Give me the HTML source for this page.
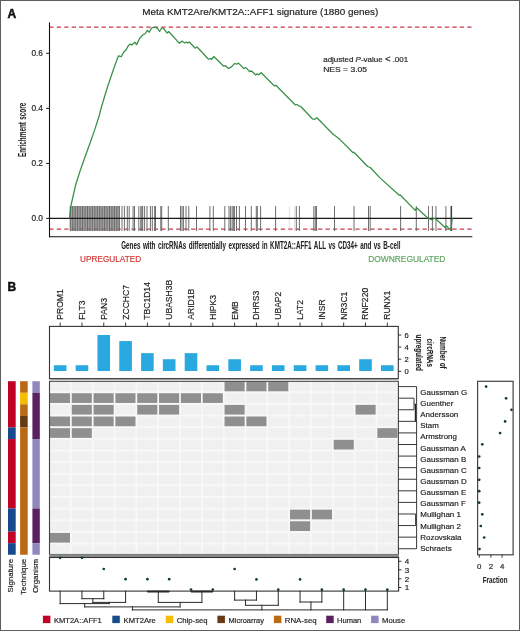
<!DOCTYPE html>
<html><head><meta charset="utf-8"><style>
html,body{margin:0;padding:0;background:#fff;}
body{width:520px;height:631px;overflow:hidden;font-family:"Liberation Sans", sans-serif;}
svg{display:block;will-change:transform;}
</style></head><body>
<svg width="520" height="631" viewBox="0 0 520 631" font-family='"Liberation Sans", sans-serif'>
<rect x="0" y="0" width="520" height="631" fill="#fff"/>
<text x="7.5" y="17.9" font-size="12" text-anchor="start" fill="#111" font-weight="bold" stroke="#111" stroke-width="0.5">A</text>
<text x="142.3" y="15.4" font-size="9.9" text-anchor="start" fill="#222" textLength="236" lengthAdjust="spacingAndGlyphs"  stroke="#222" stroke-width="0.18">Meta KMT2Are/KMT2A::AFF1 signature (1880 genes)</text>
<line x1="49.3" y1="27" x2="471.8" y2="27" stroke="#cc3a48" stroke-width="1.25" stroke-dasharray="4.3 3.164"/>
<line x1="49.3" y1="229.1" x2="471.8" y2="229.1" stroke="#cc3a48" stroke-width="1.25" stroke-dasharray="4.3 3.164"/>
<rect x="69.8" y="206" width="50.2" height="25" fill="#7a7a7a" fill-opacity="0.7"/>
<line x1="70.30" y1="206" x2="70.30" y2="231" stroke="#5a5a5a" stroke-width="0.8"/>
<line x1="72.75" y1="206" x2="72.75" y2="231" stroke="#5a5a5a" stroke-width="0.8"/>
<line x1="75.20" y1="206" x2="75.20" y2="231" stroke="#5a5a5a" stroke-width="0.8"/>
<line x1="77.65" y1="206" x2="77.65" y2="231" stroke="#5a5a5a" stroke-width="0.8"/>
<line x1="80.10" y1="206" x2="80.10" y2="231" stroke="#5a5a5a" stroke-width="0.8"/>
<line x1="82.55" y1="206" x2="82.55" y2="231" stroke="#5a5a5a" stroke-width="0.8"/>
<line x1="85.00" y1="206" x2="85.00" y2="231" stroke="#5a5a5a" stroke-width="0.8"/>
<line x1="87.45" y1="206" x2="87.45" y2="231" stroke="#5a5a5a" stroke-width="0.8"/>
<line x1="89.90" y1="206" x2="89.90" y2="231" stroke="#5a5a5a" stroke-width="0.8"/>
<line x1="92.35" y1="206" x2="92.35" y2="231" stroke="#5a5a5a" stroke-width="0.8"/>
<line x1="94.80" y1="206" x2="94.80" y2="231" stroke="#5a5a5a" stroke-width="0.8"/>
<line x1="97.25" y1="206" x2="97.25" y2="231" stroke="#5a5a5a" stroke-width="0.8"/>
<line x1="99.70" y1="206" x2="99.70" y2="231" stroke="#5a5a5a" stroke-width="0.8"/>
<line x1="102.15" y1="206" x2="102.15" y2="231" stroke="#5a5a5a" stroke-width="0.8"/>
<line x1="104.60" y1="206" x2="104.60" y2="231" stroke="#5a5a5a" stroke-width="0.8"/>
<line x1="107.05" y1="206" x2="107.05" y2="231" stroke="#5a5a5a" stroke-width="0.8"/>
<line x1="109.50" y1="206" x2="109.50" y2="231" stroke="#5a5a5a" stroke-width="0.8"/>
<line x1="111.95" y1="206" x2="111.95" y2="231" stroke="#5a5a5a" stroke-width="0.8"/>
<line x1="114.40" y1="206" x2="114.40" y2="231" stroke="#5a5a5a" stroke-width="0.8"/>
<line x1="116.85" y1="206" x2="116.85" y2="231" stroke="#5a5a5a" stroke-width="0.8"/>
<line x1="119.30" y1="206" x2="119.30" y2="231" stroke="#5a5a5a" stroke-width="0.8"/>
<line x1="122" y1="206" x2="122" y2="231" stroke="#666" stroke-width="0.95"/>
<line x1="124.4" y1="206" x2="124.4" y2="231" stroke="#666" stroke-width="0.95"/>
<line x1="127.3" y1="206" x2="127.3" y2="231" stroke="#666" stroke-width="0.95"/>
<line x1="129.2" y1="206" x2="129.2" y2="231" stroke="#666" stroke-width="0.95"/>
<line x1="133.1" y1="206" x2="133.1" y2="231" stroke="#666" stroke-width="0.95"/>
<line x1="134.5" y1="206" x2="134.5" y2="231" stroke="#666" stroke-width="0.95"/>
<line x1="138.8" y1="206" x2="138.8" y2="231" stroke="#666" stroke-width="0.95"/>
<line x1="140.8" y1="206" x2="140.8" y2="231" stroke="#666" stroke-width="0.95"/>
<line x1="141.8" y1="206" x2="141.8" y2="231" stroke="#666" stroke-width="0.95"/>
<line x1="142.7" y1="206" x2="142.7" y2="231" stroke="#666" stroke-width="0.95"/>
<line x1="144.6" y1="206" x2="144.6" y2="231" stroke="#666" stroke-width="0.95"/>
<line x1="147" y1="206" x2="147" y2="231" stroke="#666" stroke-width="0.95"/>
<line x1="150.4" y1="206" x2="150.4" y2="231" stroke="#666" stroke-width="0.95"/>
<line x1="152.3" y1="206" x2="152.3" y2="231" stroke="#666" stroke-width="0.95"/>
<line x1="154.7" y1="206" x2="154.7" y2="231" stroke="#666" stroke-width="0.95"/>
<line x1="155.5" y1="206" x2="155.5" y2="231" stroke="#666" stroke-width="0.95"/>
<line x1="160.8" y1="206" x2="160.8" y2="231" stroke="#666" stroke-width="0.95"/>
<line x1="161.7" y1="206" x2="161.7" y2="231" stroke="#666" stroke-width="0.95"/>
<line x1="168.3" y1="206" x2="168.3" y2="231" stroke="#666" stroke-width="0.95"/>
<line x1="180.5" y1="206" x2="180.5" y2="231" stroke="#666" stroke-width="0.95"/>
<line x1="182" y1="206" x2="182" y2="231" stroke="#666" stroke-width="0.95"/>
<line x1="183.4" y1="206" x2="183.4" y2="231" stroke="#666" stroke-width="0.95"/>
<line x1="186" y1="206" x2="186" y2="231" stroke="#666" stroke-width="0.95"/>
<line x1="188.8" y1="206" x2="188.8" y2="231" stroke="#666" stroke-width="0.95"/>
<line x1="196.5" y1="206" x2="196.5" y2="231" stroke="#666" stroke-width="0.95"/>
<line x1="209.9" y1="206" x2="209.9" y2="231" stroke="#666" stroke-width="0.95"/>
<line x1="213.3" y1="206" x2="213.3" y2="231" stroke="#666" stroke-width="0.95"/>
<line x1="224.8" y1="206" x2="224.8" y2="231" stroke="#666" stroke-width="0.95"/>
<line x1="229" y1="206" x2="229" y2="231" stroke="#666" stroke-width="0.95"/>
<line x1="230.6" y1="206" x2="230.6" y2="231" stroke="#666" stroke-width="0.95"/>
<line x1="232.2" y1="206" x2="232.2" y2="231" stroke="#666" stroke-width="0.95"/>
<line x1="233.7" y1="206" x2="233.7" y2="231" stroke="#666" stroke-width="0.95"/>
<line x1="234.4" y1="206" x2="234.4" y2="231" stroke="#666" stroke-width="0.95"/>
<line x1="236.5" y1="206" x2="236.5" y2="231" stroke="#666" stroke-width="0.95"/>
<line x1="239.4" y1="206" x2="239.4" y2="231" stroke="#666" stroke-width="0.95"/>
<line x1="245.5" y1="206" x2="245.5" y2="231" stroke="#666" stroke-width="0.95"/>
<line x1="251.3" y1="206" x2="251.3" y2="231" stroke="#666" stroke-width="0.95"/>
<line x1="256.3" y1="206" x2="256.3" y2="231" stroke="#666" stroke-width="0.95"/>
<line x1="257.3" y1="206" x2="257.3" y2="231" stroke="#666" stroke-width="0.95"/>
<line x1="260.6" y1="206" x2="260.6" y2="231" stroke="#666" stroke-width="0.95"/>
<line x1="275.6" y1="206" x2="275.6" y2="231" stroke="#666" stroke-width="0.95"/>
<line x1="296.3" y1="206" x2="296.3" y2="231" stroke="#666" stroke-width="0.95"/>
<line x1="299.4" y1="206" x2="299.4" y2="231" stroke="#666" stroke-width="0.95"/>
<line x1="313.8" y1="206" x2="313.8" y2="231" stroke="#666" stroke-width="0.95"/>
<line x1="315.3" y1="206" x2="315.3" y2="231" stroke="#666" stroke-width="0.95"/>
<line x1="316.5" y1="206" x2="316.5" y2="231" stroke="#666" stroke-width="0.95"/>
<line x1="334.5" y1="206" x2="334.5" y2="231" stroke="#666" stroke-width="0.95"/>
<line x1="354" y1="206" x2="354" y2="231" stroke="#666" stroke-width="0.95"/>
<line x1="368.5" y1="206" x2="368.5" y2="231" stroke="#666" stroke-width="0.95"/>
<line x1="370.2" y1="206" x2="370.2" y2="231" stroke="#666" stroke-width="0.95"/>
<line x1="400.6" y1="206" x2="400.6" y2="231" stroke="#666" stroke-width="0.95"/>
<line x1="416.3" y1="206" x2="416.3" y2="231" stroke="#666" stroke-width="0.95"/>
<line x1="428.5" y1="206" x2="428.5" y2="231" stroke="#666" stroke-width="0.95"/>
<line x1="432.4" y1="206" x2="432.4" y2="231" stroke="#666" stroke-width="0.95"/>
<line x1="436" y1="206" x2="436" y2="231" stroke="#666" stroke-width="0.95"/>
<line x1="445.9" y1="206" x2="445.9" y2="231" stroke="#666" stroke-width="0.95"/>
<line x1="451.3" y1="206" x2="451.3" y2="231" stroke="#444" stroke-width="1.6"/>
<line x1="289.4" y1="206" x2="289.4" y2="231" stroke="#ccc" stroke-width="0.6"/>
<line x1="294.5" y1="206" x2="294.5" y2="231" stroke="#ccc" stroke-width="0.6"/>
<line x1="49.5" y1="22.3" x2="49.5" y2="237.2" stroke="#111" stroke-width="1.1"/>
<line x1="49" y1="236.7" x2="472.3" y2="236.7" stroke="#111" stroke-width="1.1"/>
<line x1="49.5" y1="218.4" x2="472.3" y2="218.4" stroke="#1a1a1a" stroke-width="1.1"/>
<line x1="46.2" y1="53.3" x2="49.5" y2="53.3" stroke="#111" stroke-width="1"/>
<text x="43" y="56.199999999999996" font-size="8.3" text-anchor="end" fill="#222"  stroke="#222" stroke-width="0.18">0.6</text>
<line x1="46.2" y1="108.4" x2="49.5" y2="108.4" stroke="#111" stroke-width="1"/>
<text x="43" y="111.30000000000001" font-size="8.3" text-anchor="end" fill="#222"  stroke="#222" stroke-width="0.18">0.4</text>
<line x1="46.2" y1="163.4" x2="49.5" y2="163.4" stroke="#111" stroke-width="1"/>
<text x="43" y="166.3" font-size="8.3" text-anchor="end" fill="#222"  stroke="#222" stroke-width="0.18">0.2</text>
<line x1="46.2" y1="218.4" x2="49.5" y2="218.4" stroke="#111" stroke-width="1"/>
<text x="43" y="221.3" font-size="8.3" text-anchor="end" fill="#222"  stroke="#222" stroke-width="0.18">0.0</text>
<polyline points="69.5,218.4 70.75,206.5 75.5,185.5 80.3,170.3 85,157 89.8,143.7 94.5,130.4 99.3,115.5 101,108.5 106.7,89.5 112.4,72.5 116,62.2 118.5,55.8 120.2,56.3 121.3,56.8 123.5,52.5 126.3,49.5 128.5,45.4 130.3,44 131.7,45.1 135,42.3 136.6,44.6 139.6,38.5 142.7,35 145,33.8 147.3,30.4 149.2,32.3 151.5,28.1 153.5,27.3 155.4,27.3 157.3,28.1 159.6,31.5 161.9,27.7 163.5,28.5 167.3,33.1 168.5,31.5 170.5,33.5 179.2,43.1 182.3,41.1 184.6,43.1 186.2,42 187.7,43.1 189.2,42 195.4,48.2 196.9,46.9 198.5,48.5 208.5,59.2 210.8,58.5 211.5,59.5 213.8,56.5 223.8,66.2 225.4,65.7 228.5,68.5 231.5,66.9 234.6,63.5 236.9,64.2 238.5,63.1 243.8,68.5 245.4,67.7 246.5,68.1 249.6,71.6 251.2,70.8 255.8,75 257.3,73.8 258.8,74.7 261.2,72.7 274.2,85.8 275.8,85.3 295.4,105 297,104.5 298.5,105.8 300.8,106.5 312.3,118.8 314.6,119.3 316.9,117.8 333.1,134.2 334.6,135.3 340,139.6 353.1,152.7 353.9,152.2 367.7,166.5 370,167.3 380,177.9 399.2,195.2 400,194.7 415.2,210.4 416.5,207.7 428.1,218.3 431.9,219.6 434.8,218.3 435.8,219 445.4,227.7 446.3,225.8 450.7,230.1 451.6,224 452.1,218.3" fill="none" stroke="#379046" stroke-width="1.25" stroke-linejoin="round"/>
<text x="323.2" y="61.8" font-size="8.1" text-anchor="start" fill="#222" textLength="85" lengthAdjust="spacingAndGlyphs"  stroke="#222" stroke-width="0.18">adjusted <tspan font-style="italic">P</tspan>-value <tspan font-size="9.6" dy="0.6">&lt;</tspan><tspan dy="-0.6"> .001</tspan></text>
<text x="323.2" y="71.8" font-size="8.1" text-anchor="start" fill="#222" textLength="43.8" lengthAdjust="spacingAndGlyphs"  stroke="#222" stroke-width="0.18">NES = 3.05</text>
<text transform="translate(25.6,157) rotate(-90)" x="0" y="0" font-size="10.6" fill="#222" font-weight="bold" stroke="#222" stroke-width="0.05" word-spacing="1" textLength="54.2" lengthAdjust="spacingAndGlyphs">Enrichment score</text>
<text x="121.2" y="249" font-size="10.6" text-anchor="start" fill="#222" textLength="279.2" lengthAdjust="spacingAndGlyphs" font-weight="bold" stroke="#222" stroke-width="0.05" word-spacing="1.3">Genes with circRNAs differentially expressed in KMT2A::AFF1 ALL vs CD34+ and vs B-cell</text>
<text x="80.1" y="261.9" font-size="8.2" text-anchor="start" fill="#d43a35" textLength="61" lengthAdjust="spacingAndGlyphs"  stroke="#d43a35" stroke-width="0.18">UPREGULATED</text>
<text x="368.2" y="261.9" font-size="8.3" text-anchor="start" fill="#5fa55f" textLength="77.2" lengthAdjust="spacingAndGlyphs"  stroke="#5fa55f" stroke-width="0.18">DOWNREGULATED</text>
<text x="7.5" y="290.5" font-size="12" text-anchor="start" fill="#111" font-weight="bold" stroke="#111" stroke-width="0.5">B</text>
<text transform="translate(63.15,319.8) rotate(-90)" x="0" y="0" font-size="8.6" fill="#222" stroke="#222" stroke-width="0.18">PROM1</text>
<line x1="60.15" y1="322.6" x2="60.15" y2="326.4" stroke="#222" stroke-width="0.9"/>
<text transform="translate(84.96,319.8) rotate(-90)" x="0" y="0" font-size="8.6" fill="#222" stroke="#222" stroke-width="0.18">FLT3</text>
<line x1="81.96" y1="322.6" x2="81.96" y2="326.4" stroke="#222" stroke-width="0.9"/>
<text transform="translate(106.77,319.8) rotate(-90)" x="0" y="0" font-size="8.6" fill="#222" stroke="#222" stroke-width="0.18">PAN3</text>
<line x1="103.77" y1="322.6" x2="103.77" y2="326.4" stroke="#222" stroke-width="0.9"/>
<text transform="translate(128.58,319.8) rotate(-90)" x="0" y="0" font-size="8.6" fill="#222" stroke="#222" stroke-width="0.18">ZCCHC7</text>
<line x1="125.58" y1="322.6" x2="125.58" y2="326.4" stroke="#222" stroke-width="0.9"/>
<text transform="translate(150.39,319.8) rotate(-90)" x="0" y="0" font-size="8.6" fill="#222" stroke="#222" stroke-width="0.18">TBC1D14</text>
<line x1="147.39" y1="322.6" x2="147.39" y2="326.4" stroke="#222" stroke-width="0.9"/>
<text transform="translate(172.20,319.8) rotate(-90)" x="0" y="0" font-size="8.6" fill="#222" stroke="#222" stroke-width="0.18">UBASH3B</text>
<line x1="169.20" y1="322.6" x2="169.20" y2="326.4" stroke="#222" stroke-width="0.9"/>
<text transform="translate(194.01,319.8) rotate(-90)" x="0" y="0" font-size="8.6" fill="#222" stroke="#222" stroke-width="0.18">ARID1B</text>
<line x1="191.01" y1="322.6" x2="191.01" y2="326.4" stroke="#222" stroke-width="0.9"/>
<text transform="translate(215.82,319.8) rotate(-90)" x="0" y="0" font-size="8.6" fill="#222" stroke="#222" stroke-width="0.18">HIPK3</text>
<line x1="212.82" y1="322.6" x2="212.82" y2="326.4" stroke="#222" stroke-width="0.9"/>
<text transform="translate(237.63,319.8) rotate(-90)" x="0" y="0" font-size="8.6" fill="#222" stroke="#222" stroke-width="0.18">EMB</text>
<line x1="234.63" y1="322.6" x2="234.63" y2="326.4" stroke="#222" stroke-width="0.9"/>
<text transform="translate(259.44,319.8) rotate(-90)" x="0" y="0" font-size="8.6" fill="#222" stroke="#222" stroke-width="0.18">DHRS3</text>
<line x1="256.44" y1="322.6" x2="256.44" y2="326.4" stroke="#222" stroke-width="0.9"/>
<text transform="translate(281.25,319.8) rotate(-90)" x="0" y="0" font-size="8.6" fill="#222" stroke="#222" stroke-width="0.18">UBAP2</text>
<line x1="278.25" y1="322.6" x2="278.25" y2="326.4" stroke="#222" stroke-width="0.9"/>
<text transform="translate(303.06,319.8) rotate(-90)" x="0" y="0" font-size="8.6" fill="#222" stroke="#222" stroke-width="0.18">LAT2</text>
<line x1="300.06" y1="322.6" x2="300.06" y2="326.4" stroke="#222" stroke-width="0.9"/>
<text transform="translate(324.87,319.8) rotate(-90)" x="0" y="0" font-size="8.6" fill="#222" stroke="#222" stroke-width="0.18">INSR</text>
<line x1="321.87" y1="322.6" x2="321.87" y2="326.4" stroke="#222" stroke-width="0.9"/>
<text transform="translate(346.68,319.8) rotate(-90)" x="0" y="0" font-size="8.6" fill="#222" stroke="#222" stroke-width="0.18">NR3C1</text>
<line x1="343.68" y1="322.6" x2="343.68" y2="326.4" stroke="#222" stroke-width="0.9"/>
<text transform="translate(368.49,319.8) rotate(-90)" x="0" y="0" font-size="8.6" fill="#222" stroke="#222" stroke-width="0.18">RNF220</text>
<line x1="365.49" y1="322.6" x2="365.49" y2="326.4" stroke="#222" stroke-width="0.9"/>
<text transform="translate(390.30,319.8) rotate(-90)" x="0" y="0" font-size="8.6" fill="#222" stroke="#222" stroke-width="0.18">RUNX1</text>
<line x1="387.30" y1="322.6" x2="387.30" y2="326.4" stroke="#222" stroke-width="0.9"/>
<rect x="49.5" y="326.4" width="348.8" height="52.2" fill="none" stroke="#333" stroke-width="1.1"/>
<line x1="49.5" y1="379.4" x2="398.3" y2="379.4" stroke="#999" stroke-width="1"/>
<rect x="53.85" y="365.25" width="12.6" height="5.75" fill="#2aa8e0"/>
<rect x="75.66" y="365.25" width="12.6" height="5.75" fill="#2aa8e0"/>
<rect x="97.47" y="335.00" width="12.6" height="36.00" fill="#2aa8e0"/>
<rect x="119.28" y="341.05" width="12.6" height="29.95" fill="#2aa8e0"/>
<rect x="141.09" y="353.15" width="12.6" height="17.85" fill="#2aa8e0"/>
<rect x="162.90" y="359.20" width="12.6" height="11.80" fill="#2aa8e0"/>
<rect x="184.71" y="353.15" width="12.6" height="17.85" fill="#2aa8e0"/>
<rect x="206.52" y="365.25" width="12.6" height="5.75" fill="#2aa8e0"/>
<rect x="228.33" y="359.20" width="12.6" height="11.80" fill="#2aa8e0"/>
<rect x="250.14" y="365.25" width="12.6" height="5.75" fill="#2aa8e0"/>
<rect x="271.95" y="365.25" width="12.6" height="5.75" fill="#2aa8e0"/>
<rect x="293.76" y="365.25" width="12.6" height="5.75" fill="#2aa8e0"/>
<rect x="315.57" y="365.25" width="12.6" height="5.75" fill="#2aa8e0"/>
<rect x="337.38" y="365.25" width="12.6" height="5.75" fill="#2aa8e0"/>
<rect x="359.19" y="359.20" width="12.6" height="11.80" fill="#2aa8e0"/>
<rect x="381.00" y="365.25" width="12.6" height="5.75" fill="#2aa8e0"/>
<line x1="398.3" y1="371.30" x2="401.3" y2="371.30" stroke="#222" stroke-width="0.9"/>
<text x="404.4" y="373.90000000000003" font-size="7.6" text-anchor="start" fill="#222"  stroke="#222" stroke-width="0.18">0</text>
<line x1="398.3" y1="359.20" x2="401.3" y2="359.20" stroke="#222" stroke-width="0.9"/>
<text x="404.4" y="361.8" font-size="7.6" text-anchor="start" fill="#222"  stroke="#222" stroke-width="0.18">2</text>
<line x1="398.3" y1="347.10" x2="401.3" y2="347.10" stroke="#222" stroke-width="0.9"/>
<text x="404.4" y="349.70000000000005" font-size="7.6" text-anchor="start" fill="#222"  stroke="#222" stroke-width="0.18">4</text>
<line x1="398.3" y1="335.00" x2="401.3" y2="335.00" stroke="#222" stroke-width="0.9"/>
<text x="404.4" y="337.6" font-size="7.6" text-anchor="start" fill="#222"  stroke="#222" stroke-width="0.18">6</text>
<text transform="translate(440.2,352.6) rotate(90)" x="0" y="0" font-size="9.2" text-anchor="middle" fill="#222" textLength="32.3" lengthAdjust="spacingAndGlyphs" font-weight="bold" stroke="#222" stroke-width="0.1">Number of</text>
<text transform="translate(427.3,352.7) rotate(90)" x="0" y="0" font-size="9.2" text-anchor="middle" fill="#222" textLength="28.4" lengthAdjust="spacingAndGlyphs" font-weight="bold" stroke="#222" stroke-width="0.1">circRNAs</text>
<text transform="translate(416.0,352.7) rotate(90)" x="0" y="0" font-size="9.2" text-anchor="middle" fill="#222" textLength="36.2" lengthAdjust="spacingAndGlyphs" font-weight="bold" stroke="#222" stroke-width="0.1">upregulated</text>
<rect x="49.5" y="381.3" width="348.9" height="173.2" fill="#f8f8f8"/>
<rect x="49.90" y="381.60" width="20.1" height="9.7" fill="#f0f0f0"/>
<rect x="71.73" y="381.60" width="20.1" height="9.7" fill="#f0f0f0"/>
<rect x="93.56" y="381.60" width="20.1" height="9.7" fill="#f0f0f0"/>
<rect x="115.39" y="381.60" width="20.1" height="9.7" fill="#f0f0f0"/>
<rect x="137.22" y="381.60" width="20.1" height="9.7" fill="#f0f0f0"/>
<rect x="159.05" y="381.60" width="20.1" height="9.7" fill="#f0f0f0"/>
<rect x="180.88" y="381.60" width="20.1" height="9.7" fill="#f0f0f0"/>
<rect x="202.71" y="381.60" width="20.1" height="9.7" fill="#f0f0f0"/>
<rect x="224.54" y="381.60" width="20.1" height="9.7" fill="#8f8f8f"/>
<rect x="246.37" y="381.60" width="20.1" height="9.7" fill="#8f8f8f"/>
<rect x="268.20" y="381.60" width="20.1" height="9.7" fill="#8f8f8f"/>
<rect x="290.03" y="381.60" width="20.1" height="9.7" fill="#f0f0f0"/>
<rect x="311.86" y="381.60" width="20.1" height="9.7" fill="#f0f0f0"/>
<rect x="333.69" y="381.60" width="20.1" height="9.7" fill="#f0f0f0"/>
<rect x="355.52" y="381.60" width="20.1" height="9.7" fill="#f0f0f0"/>
<rect x="377.35" y="381.60" width="20.1" height="9.7" fill="#f0f0f0"/>
<rect x="49.90" y="393.24" width="20.1" height="9.7" fill="#8f8f8f"/>
<rect x="71.73" y="393.24" width="20.1" height="9.7" fill="#8f8f8f"/>
<rect x="93.56" y="393.24" width="20.1" height="9.7" fill="#8f8f8f"/>
<rect x="115.39" y="393.24" width="20.1" height="9.7" fill="#8f8f8f"/>
<rect x="137.22" y="393.24" width="20.1" height="9.7" fill="#8f8f8f"/>
<rect x="159.05" y="393.24" width="20.1" height="9.7" fill="#8f8f8f"/>
<rect x="180.88" y="393.24" width="20.1" height="9.7" fill="#8f8f8f"/>
<rect x="202.71" y="393.24" width="20.1" height="9.7" fill="#8f8f8f"/>
<rect x="224.54" y="393.24" width="20.1" height="9.7" fill="#f0f0f0"/>
<rect x="246.37" y="393.24" width="20.1" height="9.7" fill="#f0f0f0"/>
<rect x="268.20" y="393.24" width="20.1" height="9.7" fill="#f0f0f0"/>
<rect x="290.03" y="393.24" width="20.1" height="9.7" fill="#f0f0f0"/>
<rect x="311.86" y="393.24" width="20.1" height="9.7" fill="#f0f0f0"/>
<rect x="333.69" y="393.24" width="20.1" height="9.7" fill="#f0f0f0"/>
<rect x="355.52" y="393.24" width="20.1" height="9.7" fill="#f0f0f0"/>
<rect x="377.35" y="393.24" width="20.1" height="9.7" fill="#f0f0f0"/>
<rect x="49.90" y="404.88" width="20.1" height="9.7" fill="#f0f0f0"/>
<rect x="71.73" y="404.88" width="20.1" height="9.7" fill="#8f8f8f"/>
<rect x="93.56" y="404.88" width="20.1" height="9.7" fill="#8f8f8f"/>
<rect x="115.39" y="404.88" width="20.1" height="9.7" fill="#f0f0f0"/>
<rect x="137.22" y="404.88" width="20.1" height="9.7" fill="#8f8f8f"/>
<rect x="159.05" y="404.88" width="20.1" height="9.7" fill="#8f8f8f"/>
<rect x="180.88" y="404.88" width="20.1" height="9.7" fill="#f0f0f0"/>
<rect x="202.71" y="404.88" width="20.1" height="9.7" fill="#f0f0f0"/>
<rect x="224.54" y="404.88" width="20.1" height="9.7" fill="#8f8f8f"/>
<rect x="246.37" y="404.88" width="20.1" height="9.7" fill="#f0f0f0"/>
<rect x="268.20" y="404.88" width="20.1" height="9.7" fill="#f0f0f0"/>
<rect x="290.03" y="404.88" width="20.1" height="9.7" fill="#f0f0f0"/>
<rect x="311.86" y="404.88" width="20.1" height="9.7" fill="#f0f0f0"/>
<rect x="333.69" y="404.88" width="20.1" height="9.7" fill="#f0f0f0"/>
<rect x="355.52" y="404.88" width="20.1" height="9.7" fill="#8f8f8f"/>
<rect x="377.35" y="404.88" width="20.1" height="9.7" fill="#f0f0f0"/>
<rect x="49.90" y="416.52" width="20.1" height="9.7" fill="#8f8f8f"/>
<rect x="71.73" y="416.52" width="20.1" height="9.7" fill="#8f8f8f"/>
<rect x="93.56" y="416.52" width="20.1" height="9.7" fill="#8f8f8f"/>
<rect x="115.39" y="416.52" width="20.1" height="9.7" fill="#8f8f8f"/>
<rect x="137.22" y="416.52" width="20.1" height="9.7" fill="#f0f0f0"/>
<rect x="159.05" y="416.52" width="20.1" height="9.7" fill="#f0f0f0"/>
<rect x="180.88" y="416.52" width="20.1" height="9.7" fill="#f0f0f0"/>
<rect x="202.71" y="416.52" width="20.1" height="9.7" fill="#f0f0f0"/>
<rect x="224.54" y="416.52" width="20.1" height="9.7" fill="#8f8f8f"/>
<rect x="246.37" y="416.52" width="20.1" height="9.7" fill="#8f8f8f"/>
<rect x="268.20" y="416.52" width="20.1" height="9.7" fill="#f0f0f0"/>
<rect x="290.03" y="416.52" width="20.1" height="9.7" fill="#f0f0f0"/>
<rect x="311.86" y="416.52" width="20.1" height="9.7" fill="#f0f0f0"/>
<rect x="333.69" y="416.52" width="20.1" height="9.7" fill="#f0f0f0"/>
<rect x="355.52" y="416.52" width="20.1" height="9.7" fill="#f0f0f0"/>
<rect x="377.35" y="416.52" width="20.1" height="9.7" fill="#f0f0f0"/>
<rect x="49.90" y="428.16" width="20.1" height="9.7" fill="#8f8f8f"/>
<rect x="71.73" y="428.16" width="20.1" height="9.7" fill="#8f8f8f"/>
<rect x="93.56" y="428.16" width="20.1" height="9.7" fill="#f0f0f0"/>
<rect x="115.39" y="428.16" width="20.1" height="9.7" fill="#f0f0f0"/>
<rect x="137.22" y="428.16" width="20.1" height="9.7" fill="#f0f0f0"/>
<rect x="159.05" y="428.16" width="20.1" height="9.7" fill="#f0f0f0"/>
<rect x="180.88" y="428.16" width="20.1" height="9.7" fill="#f0f0f0"/>
<rect x="202.71" y="428.16" width="20.1" height="9.7" fill="#f0f0f0"/>
<rect x="224.54" y="428.16" width="20.1" height="9.7" fill="#f0f0f0"/>
<rect x="246.37" y="428.16" width="20.1" height="9.7" fill="#f0f0f0"/>
<rect x="268.20" y="428.16" width="20.1" height="9.7" fill="#f0f0f0"/>
<rect x="290.03" y="428.16" width="20.1" height="9.7" fill="#f0f0f0"/>
<rect x="311.86" y="428.16" width="20.1" height="9.7" fill="#f0f0f0"/>
<rect x="333.69" y="428.16" width="20.1" height="9.7" fill="#f0f0f0"/>
<rect x="355.52" y="428.16" width="20.1" height="9.7" fill="#f0f0f0"/>
<rect x="377.35" y="428.16" width="20.1" height="9.7" fill="#8f8f8f"/>
<rect x="49.90" y="439.80" width="20.1" height="9.7" fill="#f0f0f0"/>
<rect x="71.73" y="439.80" width="20.1" height="9.7" fill="#f0f0f0"/>
<rect x="93.56" y="439.80" width="20.1" height="9.7" fill="#f0f0f0"/>
<rect x="115.39" y="439.80" width="20.1" height="9.7" fill="#f0f0f0"/>
<rect x="137.22" y="439.80" width="20.1" height="9.7" fill="#f0f0f0"/>
<rect x="159.05" y="439.80" width="20.1" height="9.7" fill="#f0f0f0"/>
<rect x="180.88" y="439.80" width="20.1" height="9.7" fill="#f0f0f0"/>
<rect x="202.71" y="439.80" width="20.1" height="9.7" fill="#f0f0f0"/>
<rect x="224.54" y="439.80" width="20.1" height="9.7" fill="#f0f0f0"/>
<rect x="246.37" y="439.80" width="20.1" height="9.7" fill="#f0f0f0"/>
<rect x="268.20" y="439.80" width="20.1" height="9.7" fill="#f0f0f0"/>
<rect x="290.03" y="439.80" width="20.1" height="9.7" fill="#f0f0f0"/>
<rect x="311.86" y="439.80" width="20.1" height="9.7" fill="#f0f0f0"/>
<rect x="333.69" y="439.80" width="20.1" height="9.7" fill="#8f8f8f"/>
<rect x="355.52" y="439.80" width="20.1" height="9.7" fill="#f0f0f0"/>
<rect x="377.35" y="439.80" width="20.1" height="9.7" fill="#f0f0f0"/>
<rect x="49.90" y="451.44" width="20.1" height="9.7" fill="#f0f0f0"/>
<rect x="71.73" y="451.44" width="20.1" height="9.7" fill="#f0f0f0"/>
<rect x="93.56" y="451.44" width="20.1" height="9.7" fill="#f0f0f0"/>
<rect x="115.39" y="451.44" width="20.1" height="9.7" fill="#f0f0f0"/>
<rect x="137.22" y="451.44" width="20.1" height="9.7" fill="#f0f0f0"/>
<rect x="159.05" y="451.44" width="20.1" height="9.7" fill="#f0f0f0"/>
<rect x="180.88" y="451.44" width="20.1" height="9.7" fill="#f0f0f0"/>
<rect x="202.71" y="451.44" width="20.1" height="9.7" fill="#f0f0f0"/>
<rect x="224.54" y="451.44" width="20.1" height="9.7" fill="#f0f0f0"/>
<rect x="246.37" y="451.44" width="20.1" height="9.7" fill="#f0f0f0"/>
<rect x="268.20" y="451.44" width="20.1" height="9.7" fill="#f0f0f0"/>
<rect x="290.03" y="451.44" width="20.1" height="9.7" fill="#f0f0f0"/>
<rect x="311.86" y="451.44" width="20.1" height="9.7" fill="#f0f0f0"/>
<rect x="333.69" y="451.44" width="20.1" height="9.7" fill="#f0f0f0"/>
<rect x="355.52" y="451.44" width="20.1" height="9.7" fill="#f0f0f0"/>
<rect x="377.35" y="451.44" width="20.1" height="9.7" fill="#f0f0f0"/>
<rect x="49.90" y="463.08" width="20.1" height="9.7" fill="#f0f0f0"/>
<rect x="71.73" y="463.08" width="20.1" height="9.7" fill="#f0f0f0"/>
<rect x="93.56" y="463.08" width="20.1" height="9.7" fill="#f0f0f0"/>
<rect x="115.39" y="463.08" width="20.1" height="9.7" fill="#f0f0f0"/>
<rect x="137.22" y="463.08" width="20.1" height="9.7" fill="#f0f0f0"/>
<rect x="159.05" y="463.08" width="20.1" height="9.7" fill="#f0f0f0"/>
<rect x="180.88" y="463.08" width="20.1" height="9.7" fill="#f0f0f0"/>
<rect x="202.71" y="463.08" width="20.1" height="9.7" fill="#f0f0f0"/>
<rect x="224.54" y="463.08" width="20.1" height="9.7" fill="#f0f0f0"/>
<rect x="246.37" y="463.08" width="20.1" height="9.7" fill="#f0f0f0"/>
<rect x="268.20" y="463.08" width="20.1" height="9.7" fill="#f0f0f0"/>
<rect x="290.03" y="463.08" width="20.1" height="9.7" fill="#f0f0f0"/>
<rect x="311.86" y="463.08" width="20.1" height="9.7" fill="#f0f0f0"/>
<rect x="333.69" y="463.08" width="20.1" height="9.7" fill="#f0f0f0"/>
<rect x="355.52" y="463.08" width="20.1" height="9.7" fill="#f0f0f0"/>
<rect x="377.35" y="463.08" width="20.1" height="9.7" fill="#f0f0f0"/>
<rect x="49.90" y="474.72" width="20.1" height="9.7" fill="#f0f0f0"/>
<rect x="71.73" y="474.72" width="20.1" height="9.7" fill="#f0f0f0"/>
<rect x="93.56" y="474.72" width="20.1" height="9.7" fill="#f0f0f0"/>
<rect x="115.39" y="474.72" width="20.1" height="9.7" fill="#f0f0f0"/>
<rect x="137.22" y="474.72" width="20.1" height="9.7" fill="#f0f0f0"/>
<rect x="159.05" y="474.72" width="20.1" height="9.7" fill="#f0f0f0"/>
<rect x="180.88" y="474.72" width="20.1" height="9.7" fill="#f0f0f0"/>
<rect x="202.71" y="474.72" width="20.1" height="9.7" fill="#f0f0f0"/>
<rect x="224.54" y="474.72" width="20.1" height="9.7" fill="#f0f0f0"/>
<rect x="246.37" y="474.72" width="20.1" height="9.7" fill="#f0f0f0"/>
<rect x="268.20" y="474.72" width="20.1" height="9.7" fill="#f0f0f0"/>
<rect x="290.03" y="474.72" width="20.1" height="9.7" fill="#f0f0f0"/>
<rect x="311.86" y="474.72" width="20.1" height="9.7" fill="#f0f0f0"/>
<rect x="333.69" y="474.72" width="20.1" height="9.7" fill="#f0f0f0"/>
<rect x="355.52" y="474.72" width="20.1" height="9.7" fill="#f0f0f0"/>
<rect x="377.35" y="474.72" width="20.1" height="9.7" fill="#f0f0f0"/>
<rect x="49.90" y="486.36" width="20.1" height="9.7" fill="#f0f0f0"/>
<rect x="71.73" y="486.36" width="20.1" height="9.7" fill="#f0f0f0"/>
<rect x="93.56" y="486.36" width="20.1" height="9.7" fill="#f0f0f0"/>
<rect x="115.39" y="486.36" width="20.1" height="9.7" fill="#f0f0f0"/>
<rect x="137.22" y="486.36" width="20.1" height="9.7" fill="#f0f0f0"/>
<rect x="159.05" y="486.36" width="20.1" height="9.7" fill="#f0f0f0"/>
<rect x="180.88" y="486.36" width="20.1" height="9.7" fill="#f0f0f0"/>
<rect x="202.71" y="486.36" width="20.1" height="9.7" fill="#f0f0f0"/>
<rect x="224.54" y="486.36" width="20.1" height="9.7" fill="#f0f0f0"/>
<rect x="246.37" y="486.36" width="20.1" height="9.7" fill="#f0f0f0"/>
<rect x="268.20" y="486.36" width="20.1" height="9.7" fill="#f0f0f0"/>
<rect x="290.03" y="486.36" width="20.1" height="9.7" fill="#f0f0f0"/>
<rect x="311.86" y="486.36" width="20.1" height="9.7" fill="#f0f0f0"/>
<rect x="333.69" y="486.36" width="20.1" height="9.7" fill="#f0f0f0"/>
<rect x="355.52" y="486.36" width="20.1" height="9.7" fill="#f0f0f0"/>
<rect x="377.35" y="486.36" width="20.1" height="9.7" fill="#f0f0f0"/>
<rect x="49.90" y="498.00" width="20.1" height="9.7" fill="#f0f0f0"/>
<rect x="71.73" y="498.00" width="20.1" height="9.7" fill="#f0f0f0"/>
<rect x="93.56" y="498.00" width="20.1" height="9.7" fill="#f0f0f0"/>
<rect x="115.39" y="498.00" width="20.1" height="9.7" fill="#f0f0f0"/>
<rect x="137.22" y="498.00" width="20.1" height="9.7" fill="#f0f0f0"/>
<rect x="159.05" y="498.00" width="20.1" height="9.7" fill="#f0f0f0"/>
<rect x="180.88" y="498.00" width="20.1" height="9.7" fill="#f0f0f0"/>
<rect x="202.71" y="498.00" width="20.1" height="9.7" fill="#f0f0f0"/>
<rect x="224.54" y="498.00" width="20.1" height="9.7" fill="#f0f0f0"/>
<rect x="246.37" y="498.00" width="20.1" height="9.7" fill="#f0f0f0"/>
<rect x="268.20" y="498.00" width="20.1" height="9.7" fill="#f0f0f0"/>
<rect x="290.03" y="498.00" width="20.1" height="9.7" fill="#f0f0f0"/>
<rect x="311.86" y="498.00" width="20.1" height="9.7" fill="#f0f0f0"/>
<rect x="333.69" y="498.00" width="20.1" height="9.7" fill="#f0f0f0"/>
<rect x="355.52" y="498.00" width="20.1" height="9.7" fill="#f0f0f0"/>
<rect x="377.35" y="498.00" width="20.1" height="9.7" fill="#f0f0f0"/>
<rect x="49.90" y="509.64" width="20.1" height="9.7" fill="#f0f0f0"/>
<rect x="71.73" y="509.64" width="20.1" height="9.7" fill="#f0f0f0"/>
<rect x="93.56" y="509.64" width="20.1" height="9.7" fill="#f0f0f0"/>
<rect x="115.39" y="509.64" width="20.1" height="9.7" fill="#f0f0f0"/>
<rect x="137.22" y="509.64" width="20.1" height="9.7" fill="#f0f0f0"/>
<rect x="159.05" y="509.64" width="20.1" height="9.7" fill="#f0f0f0"/>
<rect x="180.88" y="509.64" width="20.1" height="9.7" fill="#f0f0f0"/>
<rect x="202.71" y="509.64" width="20.1" height="9.7" fill="#f0f0f0"/>
<rect x="224.54" y="509.64" width="20.1" height="9.7" fill="#f0f0f0"/>
<rect x="246.37" y="509.64" width="20.1" height="9.7" fill="#f0f0f0"/>
<rect x="268.20" y="509.64" width="20.1" height="9.7" fill="#f0f0f0"/>
<rect x="290.03" y="509.64" width="20.1" height="9.7" fill="#8f8f8f"/>
<rect x="311.86" y="509.64" width="20.1" height="9.7" fill="#8f8f8f"/>
<rect x="333.69" y="509.64" width="20.1" height="9.7" fill="#f0f0f0"/>
<rect x="355.52" y="509.64" width="20.1" height="9.7" fill="#f0f0f0"/>
<rect x="377.35" y="509.64" width="20.1" height="9.7" fill="#f0f0f0"/>
<rect x="49.90" y="521.28" width="20.1" height="9.7" fill="#f0f0f0"/>
<rect x="71.73" y="521.28" width="20.1" height="9.7" fill="#f0f0f0"/>
<rect x="93.56" y="521.28" width="20.1" height="9.7" fill="#f0f0f0"/>
<rect x="115.39" y="521.28" width="20.1" height="9.7" fill="#f0f0f0"/>
<rect x="137.22" y="521.28" width="20.1" height="9.7" fill="#f0f0f0"/>
<rect x="159.05" y="521.28" width="20.1" height="9.7" fill="#f0f0f0"/>
<rect x="180.88" y="521.28" width="20.1" height="9.7" fill="#f0f0f0"/>
<rect x="202.71" y="521.28" width="20.1" height="9.7" fill="#f0f0f0"/>
<rect x="224.54" y="521.28" width="20.1" height="9.7" fill="#f0f0f0"/>
<rect x="246.37" y="521.28" width="20.1" height="9.7" fill="#f0f0f0"/>
<rect x="268.20" y="521.28" width="20.1" height="9.7" fill="#f0f0f0"/>
<rect x="290.03" y="521.28" width="20.1" height="9.7" fill="#8f8f8f"/>
<rect x="311.86" y="521.28" width="20.1" height="9.7" fill="#f0f0f0"/>
<rect x="333.69" y="521.28" width="20.1" height="9.7" fill="#f0f0f0"/>
<rect x="355.52" y="521.28" width="20.1" height="9.7" fill="#f0f0f0"/>
<rect x="377.35" y="521.28" width="20.1" height="9.7" fill="#f0f0f0"/>
<rect x="49.90" y="532.92" width="20.1" height="9.7" fill="#8f8f8f"/>
<rect x="71.73" y="532.92" width="20.1" height="9.7" fill="#f0f0f0"/>
<rect x="93.56" y="532.92" width="20.1" height="9.7" fill="#f0f0f0"/>
<rect x="115.39" y="532.92" width="20.1" height="9.7" fill="#f0f0f0"/>
<rect x="137.22" y="532.92" width="20.1" height="9.7" fill="#f0f0f0"/>
<rect x="159.05" y="532.92" width="20.1" height="9.7" fill="#f0f0f0"/>
<rect x="180.88" y="532.92" width="20.1" height="9.7" fill="#f0f0f0"/>
<rect x="202.71" y="532.92" width="20.1" height="9.7" fill="#f0f0f0"/>
<rect x="224.54" y="532.92" width="20.1" height="9.7" fill="#f0f0f0"/>
<rect x="246.37" y="532.92" width="20.1" height="9.7" fill="#f0f0f0"/>
<rect x="268.20" y="532.92" width="20.1" height="9.7" fill="#f0f0f0"/>
<rect x="290.03" y="532.92" width="20.1" height="9.7" fill="#f0f0f0"/>
<rect x="311.86" y="532.92" width="20.1" height="9.7" fill="#f0f0f0"/>
<rect x="333.69" y="532.92" width="20.1" height="9.7" fill="#f0f0f0"/>
<rect x="355.52" y="532.92" width="20.1" height="9.7" fill="#f0f0f0"/>
<rect x="377.35" y="532.92" width="20.1" height="9.7" fill="#f0f0f0"/>
<rect x="49.90" y="544.56" width="20.1" height="9.7" fill="#f0f0f0"/>
<rect x="71.73" y="544.56" width="20.1" height="9.7" fill="#f0f0f0"/>
<rect x="93.56" y="544.56" width="20.1" height="9.7" fill="#f0f0f0"/>
<rect x="115.39" y="544.56" width="20.1" height="9.7" fill="#f0f0f0"/>
<rect x="137.22" y="544.56" width="20.1" height="9.7" fill="#f0f0f0"/>
<rect x="159.05" y="544.56" width="20.1" height="9.7" fill="#f0f0f0"/>
<rect x="180.88" y="544.56" width="20.1" height="9.7" fill="#f0f0f0"/>
<rect x="202.71" y="544.56" width="20.1" height="9.7" fill="#f0f0f0"/>
<rect x="224.54" y="544.56" width="20.1" height="9.7" fill="#f0f0f0"/>
<rect x="246.37" y="544.56" width="20.1" height="9.7" fill="#f0f0f0"/>
<rect x="268.20" y="544.56" width="20.1" height="9.7" fill="#f0f0f0"/>
<rect x="290.03" y="544.56" width="20.1" height="9.7" fill="#f0f0f0"/>
<rect x="311.86" y="544.56" width="20.1" height="9.7" fill="#f0f0f0"/>
<rect x="333.69" y="544.56" width="20.1" height="9.7" fill="#f0f0f0"/>
<rect x="355.52" y="544.56" width="20.1" height="9.7" fill="#f0f0f0"/>
<rect x="377.35" y="544.56" width="20.1" height="9.7" fill="#f0f0f0"/>
<rect x="49.5" y="381.3" width="348.9" height="173.2" fill="none" stroke="#444" stroke-width="1.1"/>
<rect x="49" y="554.2" width="350" height="3" fill="#8a8a8a"/>
<rect x="8" y="381.20" width="7.70" height="46.28" fill="#c10227"/>
<rect x="8" y="427.48" width="7.70" height="11.57" fill="#164a8c"/>
<rect x="8" y="439.05" width="7.70" height="69.42" fill="#c10227"/>
<rect x="8" y="508.47" width="7.70" height="23.14" fill="#164a8c"/>
<rect x="8" y="531.61" width="7.70" height="11.57" fill="#c10227"/>
<rect x="8" y="543.18" width="7.70" height="11.57" fill="#164a8c"/>
<rect x="20.1" y="381.20" width="7.60" height="11.57" fill="#bb6a14"/>
<rect x="20.1" y="392.77" width="7.60" height="11.57" fill="#f5bc00"/>
<rect x="20.1" y="404.34" width="7.60" height="11.57" fill="#bb6a14"/>
<rect x="20.1" y="415.91" width="7.60" height="11.57" fill="#663a12"/>
<rect x="20.1" y="427.48" width="7.60" height="127.27" fill="#bb6a14"/>
<rect x="32.4" y="381.20" width="7.40" height="11.57" fill="#9087bd"/>
<rect x="32.4" y="392.77" width="7.40" height="46.28" fill="#5a2060"/>
<rect x="32.4" y="439.05" width="7.40" height="69.42" fill="#9087bd"/>
<rect x="32.4" y="508.47" width="7.40" height="34.71" fill="#5a2060"/>
<rect x="32.4" y="543.18" width="7.40" height="11.57" fill="#9087bd"/>
<text transform="translate(13.3,558.8) rotate(-90)" x="0" y="0" font-size="7.8" text-anchor="end" fill="#222" stroke="#222" stroke-width="0.18" textLength="33.6" lengthAdjust="spacingAndGlyphs">Signature</text>
<text transform="translate(25.6,558.8) rotate(-90)" x="0" y="0" font-size="7.8" text-anchor="end" fill="#222" stroke="#222" stroke-width="0.18" textLength="35.9" lengthAdjust="spacingAndGlyphs">Technique</text>
<text transform="translate(37.7,558.8) rotate(-90)" x="0" y="0" font-size="7.8" text-anchor="end" fill="#222" stroke="#222" stroke-width="0.18" textLength="34.3" lengthAdjust="spacingAndGlyphs">Organism</text>
<line x1="398.4" y1="386.60" x2="416.6" y2="386.60" stroke="#222" stroke-width="0.9"/>
<line x1="398.4" y1="398.18" x2="414" y2="398.18" stroke="#222" stroke-width="0.9"/>
<line x1="398.4" y1="409.76" x2="414" y2="409.76" stroke="#222" stroke-width="0.9"/>
<line x1="398.4" y1="421.34" x2="416.6" y2="421.34" stroke="#222" stroke-width="0.9"/>
<line x1="398.4" y1="432.92" x2="416.6" y2="432.92" stroke="#222" stroke-width="0.9"/>
<line x1="398.4" y1="444.50" x2="416.6" y2="444.50" stroke="#222" stroke-width="0.9"/>
<line x1="398.4" y1="456.08" x2="416.6" y2="456.08" stroke="#222" stroke-width="0.9"/>
<line x1="398.4" y1="467.66" x2="416.6" y2="467.66" stroke="#222" stroke-width="0.9"/>
<line x1="398.4" y1="479.24" x2="416.6" y2="479.24" stroke="#222" stroke-width="0.9"/>
<line x1="398.4" y1="490.82" x2="416.6" y2="490.82" stroke="#222" stroke-width="0.9"/>
<line x1="398.4" y1="502.40" x2="416.6" y2="502.40" stroke="#222" stroke-width="0.9"/>
<line x1="398.4" y1="513.98" x2="415.6" y2="513.98" stroke="#222" stroke-width="0.9"/>
<line x1="398.4" y1="525.56" x2="415.6" y2="525.56" stroke="#222" stroke-width="0.9"/>
<line x1="398.4" y1="537.14" x2="416.6" y2="537.14" stroke="#222" stroke-width="0.9"/>
<line x1="398.4" y1="548.72" x2="416.6" y2="548.72" stroke="#222" stroke-width="0.9"/>
<line x1="414" y1="398.18" x2="414" y2="409.76" stroke="#222" stroke-width="0.9"/>
<line x1="415.4" y1="403.97" x2="415.4" y2="421.34" stroke="#222" stroke-width="1.2"/>
<line x1="414" y1="403.97" x2="415.4" y2="403.97" stroke="#222" stroke-width="0.9"/>
<line x1="416.6" y1="386.60" x2="416.6" y2="548.72" stroke="#222" stroke-width="0.9"/>
<line x1="415.6" y1="513.98" x2="415.6" y2="525.56" stroke="#222" stroke-width="0.9"/>
<line x1="415.6" y1="519.77" x2="416.6" y2="519.77" stroke="#222" stroke-width="0.9"/>
<text x="420.3" y="394.90" font-size="7.95" text-anchor="start" fill="#222"  stroke="#222" stroke-width="0.18">Gaussman G</text>
<text x="420.3" y="406.04" font-size="7.95" text-anchor="start" fill="#222"  stroke="#222" stroke-width="0.18">Guenther</text>
<text x="420.3" y="417.18" font-size="7.95" text-anchor="start" fill="#222"  stroke="#222" stroke-width="0.18">Andersson</text>
<text x="420.3" y="428.32" font-size="7.95" text-anchor="start" fill="#222"  stroke="#222" stroke-width="0.18">Stam</text>
<text x="420.3" y="439.46" font-size="7.95" text-anchor="start" fill="#222"  stroke="#222" stroke-width="0.18">Armstrong</text>
<text x="420.3" y="450.60" font-size="7.95" text-anchor="start" fill="#222"  stroke="#222" stroke-width="0.18">Gaussman A</text>
<text x="420.3" y="461.74" font-size="7.95" text-anchor="start" fill="#222"  stroke="#222" stroke-width="0.18">Gaussman B</text>
<text x="420.3" y="472.88" font-size="7.95" text-anchor="start" fill="#222"  stroke="#222" stroke-width="0.18">Gaussman C</text>
<text x="420.3" y="484.02" font-size="7.95" text-anchor="start" fill="#222"  stroke="#222" stroke-width="0.18">Gaussman D</text>
<text x="420.3" y="495.16" font-size="7.95" text-anchor="start" fill="#222"  stroke="#222" stroke-width="0.18">Gaussman E</text>
<text x="420.3" y="506.30" font-size="7.95" text-anchor="start" fill="#222"  stroke="#222" stroke-width="0.18">Gaussman F</text>
<text x="420.3" y="517.44" font-size="7.95" text-anchor="start" fill="#222"  stroke="#222" stroke-width="0.18">Mullighan 1</text>
<text x="420.3" y="528.58" font-size="7.95" text-anchor="start" fill="#222"  stroke="#222" stroke-width="0.18">Mullighan 2</text>
<text x="420.3" y="539.72" font-size="7.95" text-anchor="start" fill="#222"  stroke="#222" stroke-width="0.18">Rozovskaia</text>
<text x="420.3" y="550.86" font-size="7.95" text-anchor="start" fill="#222"  stroke="#222" stroke-width="0.18">Schraets</text>
<rect x="477.6" y="381.3" width="35.5" height="173.5" fill="none" stroke="#444" stroke-width="1.2"/>
<circle cx="486.1" cy="386.6" r="1.35" fill="#123d2e"/>
<circle cx="506.1" cy="398.3" r="1.35" fill="#123d2e"/>
<circle cx="511.5" cy="409.8" r="1.35" fill="#123d2e"/>
<circle cx="505.1" cy="421.4" r="1.35" fill="#123d2e"/>
<circle cx="500.1" cy="433.1" r="1.35" fill="#123d2e"/>
<circle cx="482.3" cy="444.3" r="1.35" fill="#123d2e"/>
<circle cx="479.2" cy="456.5" r="1.35" fill="#123d2e"/>
<circle cx="479.2" cy="468" r="1.35" fill="#123d2e"/>
<circle cx="479.2" cy="479.8" r="1.35" fill="#123d2e"/>
<circle cx="479.2" cy="491.2" r="1.35" fill="#123d2e"/>
<circle cx="479.2" cy="502.7" r="1.35" fill="#123d2e"/>
<circle cx="482.3" cy="514.3" r="1.35" fill="#123d2e"/>
<circle cx="480.8" cy="526" r="1.35" fill="#123d2e"/>
<circle cx="484.2" cy="537.5" r="1.35" fill="#123d2e"/>
<circle cx="479.5" cy="549.1" r="1.35" fill="#123d2e"/>
<line x1="479.3" y1="554.8" x2="479.3" y2="557.7" stroke="#222" stroke-width="0.9"/>
<text x="479.3" y="569.1" font-size="7.9" text-anchor="middle" fill="#222"  stroke="#222" stroke-width="0.18">0</text>
<line x1="490.9" y1="554.8" x2="490.9" y2="557.7" stroke="#222" stroke-width="0.9"/>
<text x="490.9" y="569.1" font-size="7.9" text-anchor="middle" fill="#222"  stroke="#222" stroke-width="0.18">2</text>
<line x1="502.1" y1="554.8" x2="502.1" y2="557.7" stroke="#222" stroke-width="0.9"/>
<text x="502.1" y="569.1" font-size="7.9" text-anchor="middle" fill="#222"  stroke="#222" stroke-width="0.18">4</text>
<text x="482.8" y="582.8" font-size="9.6" text-anchor="start" fill="#222" textLength="24.7" lengthAdjust="spacingAndGlyphs" font-weight="bold" stroke="#222" stroke-width="0.05">Fraction</text>
<rect x="49.5" y="557.5" width="349.1" height="33.6" fill="none" stroke="#333" stroke-width="1.1"/>
<line x1="398.6" y1="561.3" x2="401.4" y2="561.3" stroke="#222" stroke-width="0.9"/>
<text x="404.8" y="564.15" font-size="8.0" text-anchor="start" fill="#222"  stroke="#222" stroke-width="0.18">4</text>
<line x1="398.6" y1="569.8" x2="401.4" y2="569.8" stroke="#222" stroke-width="0.9"/>
<text x="404.8" y="572.65" font-size="8.0" text-anchor="start" fill="#222"  stroke="#222" stroke-width="0.18">3</text>
<line x1="398.6" y1="578.8" x2="401.4" y2="578.8" stroke="#222" stroke-width="0.9"/>
<text x="404.8" y="581.65" font-size="8.0" text-anchor="start" fill="#222"  stroke="#222" stroke-width="0.18">2</text>
<line x1="398.6" y1="587.5" x2="401.4" y2="587.5" stroke="#222" stroke-width="0.9"/>
<text x="404.8" y="590.35" font-size="8.0" text-anchor="start" fill="#222"  stroke="#222" stroke-width="0.18">1</text>
<circle cx="60.15" cy="557.8" r="1.35" fill="#123d2e"/>
<circle cx="81.96" cy="557.8" r="1.35" fill="#123d2e"/>
<circle cx="103.77" cy="569" r="1.35" fill="#123d2e"/>
<circle cx="125.58" cy="579.2" r="1.35" fill="#123d2e"/>
<circle cx="147.39" cy="579.2" r="1.35" fill="#123d2e"/>
<circle cx="169.20" cy="579.2" r="1.35" fill="#123d2e"/>
<circle cx="191.01" cy="589.6" r="1.35" fill="#123d2e"/>
<circle cx="212.82" cy="589.6" r="1.35" fill="#123d2e"/>
<circle cx="234.63" cy="569" r="1.35" fill="#123d2e"/>
<circle cx="256.44" cy="579.4" r="1.35" fill="#123d2e"/>
<circle cx="278.25" cy="589.7" r="1.35" fill="#123d2e"/>
<circle cx="300.06" cy="579.4" r="1.35" fill="#123d2e"/>
<circle cx="321.87" cy="589.7" r="1.35" fill="#123d2e"/>
<circle cx="343.68" cy="589.7" r="1.35" fill="#123d2e"/>
<circle cx="365.49" cy="589.7" r="1.35" fill="#123d2e"/>
<circle cx="387.30" cy="589.7" r="1.35" fill="#123d2e"/>
<line x1="147.39" y1="591.6" x2="169.20" y2="591.6" stroke="#222" stroke-width="1.8"/>
<line x1="191.01" y1="591.6" x2="212.82" y2="591.6" stroke="#222" stroke-width="1.8"/>
<line x1="81.96" y1="591.20" x2="81.96" y2="598.70" stroke="#2a2a2a" stroke-width="1" stroke-linecap="square"/>
<line x1="103.77" y1="591.20" x2="103.77" y2="598.70" stroke="#2a2a2a" stroke-width="1" stroke-linecap="square"/>
<line x1="81.96" y1="598.70" x2="103.77" y2="598.70" stroke="#2a2a2a" stroke-width="1" stroke-linecap="square"/>
<line x1="92.86" y1="598.70" x2="92.86" y2="602.40" stroke="#2a2a2a" stroke-width="1" stroke-linecap="square"/>
<line x1="125.58" y1="591.20" x2="125.58" y2="602.40" stroke="#2a2a2a" stroke-width="1" stroke-linecap="square"/>
<line x1="92.86" y1="602.40" x2="125.58" y2="602.40" stroke="#2a2a2a" stroke-width="1" stroke-linecap="square"/>
<line x1="109.22" y1="602.40" x2="109.22" y2="603.60" stroke="#2a2a2a" stroke-width="1" stroke-linecap="square"/>
<line x1="60.15" y1="591.20" x2="60.15" y2="603.60" stroke="#2a2a2a" stroke-width="1" stroke-linecap="square"/>
<line x1="60.15" y1="603.60" x2="109.22" y2="603.60" stroke="#2a2a2a" stroke-width="1" stroke-linecap="square"/>
<line x1="147.39" y1="591.40" x2="169.20" y2="591.40" stroke="#2a2a2a" stroke-width="1" stroke-linecap="square"/>
<line x1="191.01" y1="591.40" x2="212.82" y2="591.40" stroke="#2a2a2a" stroke-width="1" stroke-linecap="square"/>
<line x1="158.29" y1="591.20" x2="158.29" y2="602.40" stroke="#2a2a2a" stroke-width="1" stroke-linecap="square"/>
<line x1="201.91" y1="591.20" x2="201.91" y2="602.40" stroke="#2a2a2a" stroke-width="1" stroke-linecap="square"/>
<line x1="158.29" y1="602.40" x2="201.91" y2="602.40" stroke="#2a2a2a" stroke-width="1" stroke-linecap="square"/>
<line x1="84.69" y1="603.60" x2="84.69" y2="606.90" stroke="#2a2a2a" stroke-width="1" stroke-linecap="square"/>
<line x1="180.10" y1="602.40" x2="180.10" y2="606.90" stroke="#2a2a2a" stroke-width="1" stroke-linecap="square"/>
<line x1="84.69" y1="606.90" x2="180.10" y2="606.90" stroke="#2a2a2a" stroke-width="1" stroke-linecap="square"/>
<line x1="132.40" y1="606.90" x2="132.40" y2="609.90" stroke="#2a2a2a" stroke-width="1" stroke-linecap="square"/>
<line x1="234.63" y1="591.20" x2="234.63" y2="600.10" stroke="#2a2a2a" stroke-width="1" stroke-linecap="square"/>
<line x1="256.44" y1="591.20" x2="256.44" y2="600.10" stroke="#2a2a2a" stroke-width="1" stroke-linecap="square"/>
<line x1="234.63" y1="600.10" x2="256.44" y2="600.10" stroke="#2a2a2a" stroke-width="1" stroke-linecap="square"/>
<line x1="245.53" y1="600.10" x2="245.53" y2="605.30" stroke="#2a2a2a" stroke-width="1" stroke-linecap="square"/>
<line x1="278.25" y1="591.20" x2="278.25" y2="605.30" stroke="#2a2a2a" stroke-width="1" stroke-linecap="square"/>
<line x1="245.53" y1="605.30" x2="278.25" y2="605.30" stroke="#2a2a2a" stroke-width="1" stroke-linecap="square"/>
<line x1="261.89" y1="605.30" x2="261.89" y2="609.90" stroke="#2a2a2a" stroke-width="1" stroke-linecap="square"/>
<line x1="300.06" y1="591.20" x2="300.06" y2="602.00" stroke="#2a2a2a" stroke-width="1" stroke-linecap="square"/>
<line x1="321.87" y1="591.20" x2="321.87" y2="602.00" stroke="#2a2a2a" stroke-width="1" stroke-linecap="square"/>
<line x1="300.06" y1="602.00" x2="321.87" y2="602.00" stroke="#2a2a2a" stroke-width="1" stroke-linecap="square"/>
<line x1="310.96" y1="602.00" x2="310.96" y2="609.90" stroke="#2a2a2a" stroke-width="1" stroke-linecap="square"/>
<line x1="343.68" y1="591.20" x2="343.68" y2="609.90" stroke="#2a2a2a" stroke-width="1" stroke-linecap="square"/>
<line x1="365.49" y1="591.20" x2="365.49" y2="609.90" stroke="#2a2a2a" stroke-width="1" stroke-linecap="square"/>
<line x1="387.30" y1="591.20" x2="387.30" y2="609.90" stroke="#2a2a2a" stroke-width="1" stroke-linecap="square"/>
<line x1="132.40" y1="609.90" x2="387.30" y2="609.90" stroke="#2a2a2a" stroke-width="1" stroke-linecap="square"/>
<rect x="42.9" y="615.7" width="7.5" height="7.4" fill="#c10227"/>
<text x="54.0" y="622.5" font-size="7.7" text-anchor="start" fill="#222" textLength="47.8" lengthAdjust="spacingAndGlyphs"  stroke="#222" stroke-width="0.18">KMT2A::AFF1</text>
<rect x="112.3" y="615.7" width="7.5" height="7.4" fill="#164a8c"/>
<text x="123.6" y="622.5" font-size="7.7" text-anchor="start" fill="#222" textLength="32.2" lengthAdjust="spacingAndGlyphs"  stroke="#222" stroke-width="0.18">KMT2Are</text>
<rect x="165.7" y="615.7" width="7.5" height="7.4" fill="#f5bc00"/>
<text x="176.7" y="622.5" font-size="7.7" text-anchor="start" fill="#222" textLength="30.9" lengthAdjust="spacingAndGlyphs"  stroke="#222" stroke-width="0.18">Chip-seq</text>
<rect x="217.4" y="615.7" width="7.5" height="7.4" fill="#663a12"/>
<text x="228.6" y="622.5" font-size="7.7" text-anchor="start" fill="#222" textLength="35.3" lengthAdjust="spacingAndGlyphs"  stroke="#222" stroke-width="0.18">Microarray</text>
<rect x="273.9" y="615.7" width="7.5" height="7.4" fill="#bb6a14"/>
<text x="284.8" y="622.5" font-size="7.7" text-anchor="start" fill="#222" textLength="31.8" lengthAdjust="spacingAndGlyphs"  stroke="#222" stroke-width="0.18">RNA-seq</text>
<rect x="326.2" y="615.7" width="7.5" height="7.4" fill="#5a2060"/>
<text x="337.0" y="622.5" font-size="7.7" text-anchor="start" fill="#222" textLength="24.3" lengthAdjust="spacingAndGlyphs"  stroke="#222" stroke-width="0.18">Human</text>
<rect x="371.1" y="615.7" width="7.5" height="7.4" fill="#9087bd"/>
<text x="382.1" y="622.5" font-size="7.7" text-anchor="start" fill="#222" textLength="23.1" lengthAdjust="spacingAndGlyphs"  stroke="#222" stroke-width="0.18">Mouse</text>
<rect x="0.5" y="0.5" width="519" height="630" fill="none" stroke="#5e5e5e" stroke-width="1"/>
</svg>
</body></html>
